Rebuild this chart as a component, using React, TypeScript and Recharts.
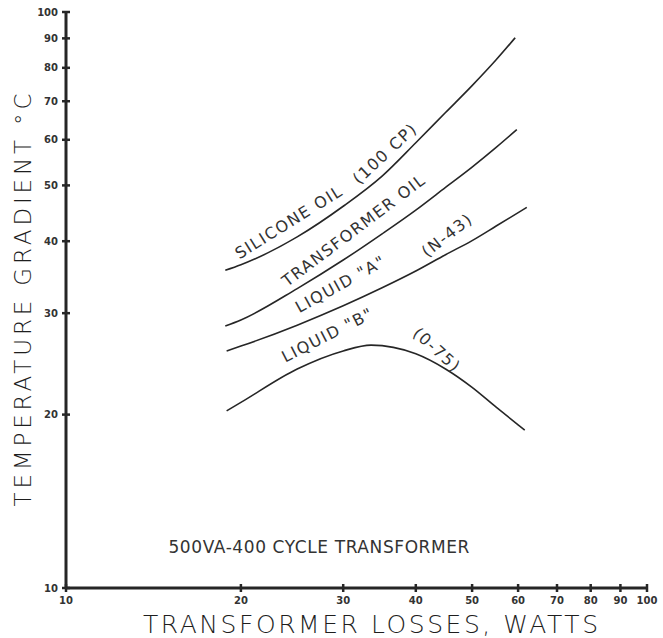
// Log-log chart: temperature gradient vs transformer losses for four coolants.
import { LineChart, Line, XAxis, YAxis, ReferenceDot, Label } from "recharts";

const logTicks = [10, 20, 30, 40, 50, 60, 70, 80, 90, 100];

// curves (watts, deg C)
const siliconeW = [18.8, 20, 25, 30, 35, 40, 45, 50, 55, 59.3];
const siliconeT = [35.6, 36.4, 40.7, 46.0, 51.9, 59.3, 66.9, 74.5, 82.6, 90.2];

const transformerW = [18.8, 20, 25, 30, 35, 40, 45, 50, 55, 59.7];
const transformerT = [28.5, 29.2, 33.1, 37.1, 41.2, 45.3, 49.6, 53.8, 58.2, 62.5];

const liquidAW = [18.9, 20, 25, 30, 35, 40, 45, 50, 55, 62.1];
const liquidAT = [25.8, 26.3, 28.6, 30.9, 33.2, 35.5, 37.9, 40.1, 42.5, 45.8];

const liquidBW = [18.9, 20, 25, 30, 33.5, 40, 45, 50, 55, 60, 61.6];
const liquidBT = [20.3, 21.0, 24.0, 25.8, 26.4, 25.5, 24.0, 22.3, 20.6, 19.2, 18.8];

const curveLabels = [
  { text: "SILICONE OIL", w: 24.2, t: 43.2, angle: -32 },
  { text: "(100 CP)", w: 35.4, t: 56.8, angle: -43 },
  { text: "TRANSFORMER OIL", w: 31.3, t: 41.8, angle: -37 },
  { text: 'LIQUID "A"', w: 29.7, t: 33.7, angle: -29 },
  { text: "(N-43)", w: 45.3, t: 41.0, angle: -38 },
  { text: 'LIQUID "B"', w: 28.2, t: 27.5, angle: -27 },
  { text: "(0-75)", w: 43.5, t: 25.9, angle: 42 },
];

const noteText = "500VA-400 CYCLE TRANSFORMER";
const noteW = 27.3;
const noteT = 11.8;

const toRows = (w: number[], t: number[]) => w.map((v, i) => ({ w: v, t: t[i] }));

const ink = "#262626";
const font = "DejaVu Sans";

function XTick(props: any) {
  const { x, y, payload } = props;
  return (
    <g>
      <line x1={x} x2={x} y1={y - 4} y2={y + 4} stroke={ink} strokeWidth={2.5} />
      <text x={x} y={y + 16} textAnchor="middle" fontSize={10} fontWeight="bold" fill="#333" fontFamily={font}>
        {payload.value}
      </text>
    </g>
  );
}

function YTick(props: any) {
  const { x, y, payload } = props;
  return (
    <g>
      <line x1={x - 4} x2={x + 4} y1={y} y2={y} stroke={ink} strokeWidth={2.5} />
      <text x={x - 8} y={y} textAnchor="end" dominantBaseline="central" fontSize={10} fontWeight="bold" fill="#333" fontFamily={font}>
        {payload.value}
      </text>
    </g>
  );
}

const textShape = (text: string, angle: number, size: number, spacing: number, length?: number) => (p: any) => (
  <text
    x={p.cx}
    y={p.cy}
    transform={`rotate(${angle} ${p.cx} ${p.cy})`}
    textAnchor="middle"
    dominantBaseline="central"
    fontSize={size}
    fill="#333"
    fontFamily={font}
    letterSpacing={spacing}
    textLength={length}
    lengthAdjust={length ? "spacing" : undefined}
  >
    {text}
  </text>
);

export default function App() {
  const series = [
    toRows(siliconeW, siliconeT),
    toRows(transformerW, transformerT),
    toRows(liquidAW, liquidAT),
    toRows(liquidBW, liquidBT),
  ];
  return (
    <div style={{ position: "absolute", left: 0, top: 0, width: 663, height: 638, background: "#fff" }}>
      <LineChart width={663} height={638} margin={{ top: 12, right: 16, bottom: 0, left: 0 }}>
        <XAxis
          dataKey="w"
          type="number"
          scale="log"
          domain={[10, 100]}
          ticks={logTicks}
          allowDataOverflow
          height={50}
          tickSize={0}
          tickMargin={0}
          tickLine={false}
          tick={<XTick />}
          axisLine={{ stroke: ink, strokeWidth: 3 }}
        >
          <Label
            content={({ viewBox }: any) => (
              <text
                x={viewBox.x + viewBox.width / 2 + 14}
                y={viewBox.y + 45}
                textAnchor="middle"
                fontSize={25}
                fontWeight={200}
                fill="#1e1e1e"
                fontFamily={font}
                textLength={455}
                lengthAdjust="spacing"
              >
                TRANSFORMER LOSSES, WATTS
              </text>
            )}
          />
        </XAxis>
        <YAxis
          dataKey="t"
          type="number"
          scale="log"
          domain={[10, 100]}
          ticks={logTicks}
          allowDataOverflow
          width={66}
          tickSize={0}
          tickMargin={0}
          tickLine={false}
          tick={<YTick />}
          axisLine={{ stroke: ink, strokeWidth: 3 }}
        >
          <Label
            content={({ viewBox }: any) => {
              const cx = 23;
              const cy = viewBox.y + viewBox.height / 2;
              return (
                <text
                  x={cx}
                  y={cy}
                  transform={`rotate(-90 ${cx} ${cy})`}
                  textAnchor="middle"
                  dominantBaseline="central"
                  fontSize={23}
                  fontWeight={200}
                  fill="#1e1e1e"
                  fontFamily={font}
                  textLength={413}
                  lengthAdjust="spacing"
                >
                  TEMPERATURE GRADIENT °C
                </text>
              );
            }}
          />
        </YAxis>
        {series.map((rows, i) => (
          <Line
            key={i}
            data={rows}
            dataKey="t"
            type="monotone"
            stroke={ink}
            strokeWidth={1.6}
            dot={false}
            activeDot={false}
            isAnimationActive={false}
          />
        ))}
        {curveLabels.map((l, i) => (
          <ReferenceDot key={i} x={l.w} y={l.t} r={0} shape={textShape(l.text, l.angle, 16, 1.5)} />
        ))}
        <ReferenceDot x={noteW} y={noteT} r={0} shape={textShape(noteText, 0, 17, 1, 302)} />
      </LineChart>
    </div>
  );
}
